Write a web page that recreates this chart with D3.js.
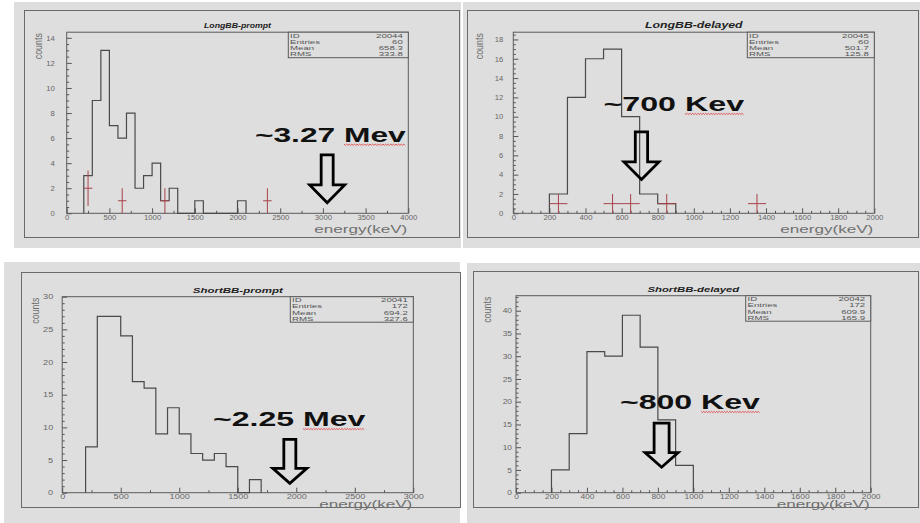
<!DOCTYPE html>
<html><head><meta charset="utf-8">
<script src="https://cdn.jsdelivr.net/npm/d3@7"></script>
<style>
html,body{margin:0;padding:0;background:#fff;}
svg{display:block;font-family:"Liberation Sans",Arial,Helvetica,sans-serif;}
</style></head><body>
<svg id="c" width="920" height="523"></svg>
<script>
// ---------------- data ----------------
const panelTitles = ["LongBB-prompt", "LongBB-delayed", "ShortBB-prompt", "ShortBB-delayed"];
const binStart = 200, binWidth = 100;            // keV
const longPromptCounts  = [3, 9, 13, 7, 6, 8, 2, 3, 4, 1, 2, 0, 0, 1, 0, 0, 0, 0, 1];
const longDelayedCounts = [2, 12, 16, 17, 10, 2, 1];
const shortPromptCounts = [7, 27, 27, 24, 17, 16, 9, 13, 9, 6, 5, 6, 4, 0, 2];
const shortDelayedCounts = [5, 13, 31, 30, 39, 32, 16, 6];
const longPromptMarkX  = [250, 650, 1150, 2350];
const longPromptMarkY  = [2, 1, 1, 1];
const longDelayedMarkX = [250, 550, 650, 850, 1350];
const longDelayedMarkY = [1, 1, 1, 1, 1];
const statIDs     = ["20044", "20045", "20041", "20042"];
const statEntries = ["60", "60", "172", "172"];
const statMeans   = ["658.3", "501.7", "694.2", "609.9"];
const statRMS     = ["333.8", "125.8", "327.6", "165.9"];
const xMax   = [4000, 2000, 3000, 2000];
const yMax   = [14.45, 18.75, 30, 43.3];
const xMajor = [500, 200, 500, 200];
const xMinor = [250, 50, 250, 50];
const yMajor = [2, 2, 5, 5];
const yMinor = [0.5, 0.5, 1, 1];
const noteText = ["~3.27 Mev", "~700 Kev", "~2.25 Mev", "~800 Kev"];
const noteX = [3087, 889, 1940, 981];     // keV (text centre)
const noteY = [5.71, 10.6, 10.2, 18.4];   // counts (baseline)
const arrowX = [3050, 710, 1945, 821];    // keV (arrow tip)
const arrowY = [0.85, 3.5, 1.44, 5.6];    // counts (arrow tip)

// ---------------- layout ----------------
const layout = [
  {bg:[14,2,447,246], frame:[24,10,435,227], plot:[66.7,32.2,341.6,181.1], ygap:12, ylabX:29, xlabDY:19.3, tpad:2,
   titleFs:7.5, titleW:67, noteW:150.7, arrow:{sw:12,hw:35,hh:17.7,h:47.7}, tk:1.1, statW:120},
  {bg:[463,2,457,246], frame:[467,10,451,227], plot:[513.3,32.2,361,181.1], ygap:10, ylabX:34, xlabDY:19.3, tpad:2,
   titleFs:8.5, titleW:97.6, noteW:140.7, arrow:{sw:12.3,hw:35,hh:17.6,h:47.6}, tk:1.1, statW:127},
  {bg:[4,262,456,261], frame:[21,272,439,235], plot:[62.2,296.7,351.1,196], ygap:9, ylabX:27, xlabDY:14.8, tpad:1.2,
   titleFs:8, titleW:90, noteW:152.4, arrow:{sw:12,hw:34,hh:15,h:44}, tk:1.3, statW:123},
  {bg:[467,263,453,260], frame:[473,271,445,236], plot:[516,295.7,354.7,197], ygap:4, ylabX:28.5, xlabDY:14.8, tpad:1.2,
   titleFs:8, titleW:91.7, noteW:140, arrow:{sw:15,hw:33,hh:14.6,h:44}, tk:1.2, statW:125}
];

const series = [longPromptCounts, longDelayedCounts, shortPromptCounts, shortDelayedCounts];
const marks = [{x: longPromptMarkX, y: longPromptMarkY}, {x: longDelayedMarkX, y: longDelayedMarkY}, null, null];

const svg = d3.select("#c");
const GRAY = "#dedede";

function stretch(sel, k) {
  sel.each(function () {
    const w = this.getComputedTextLength();
    d3.select(this).attr("textLength", w * k).attr("lengthAdjust", "spacingAndGlyphs");
  });
}
function fit(sel, w) { sel.attr("textLength", w).attr("lengthAdjust", "spacingAndGlyphs"); }

layout.forEach((L, i) => {
  const g = svg.append("g");
  g.append("rect").attr("x", L.bg[0]).attr("y", L.bg[1]).attr("width", L.bg[2]).attr("height", L.bg[3]).attr("fill", GRAY);
  g.append("rect").attr("x", L.frame[0] + 0.5).attr("y", L.frame[1] + 0.5).attr("width", L.frame[2]).attr("height", L.frame[3])
    .attr("fill", "none").attr("stroke", "#6a6a6a").attr("stroke-width", 1);

  const [px, py, pw, ph] = L.plot;
  const x = d3.scaleLinear().domain([0, xMax[i]]).range([px, px + pw]);
  const y = d3.scaleLinear().domain([0, yMax[i]]).range([py + ph, py]);

  // minor ticks
  const xMin = d3.range(0, xMax[i] + 1e-6, xMinor[i]).filter(v => Math.abs(v / xMajor[i] - Math.round(v / xMajor[i])) > 1e-6);
  const yMin = d3.range(0, yMax[i], yMinor[i]).filter(v => Math.abs(v / yMajor[i] - Math.round(v / yMajor[i])) > 1e-6);
  g.append("g").attr("transform", `translate(0,${py + ph})`)
    .call(d3.axisBottom(x).tickValues(xMin).tickSize(-2.5).tickFormat(""))
    .call(a => a.select(".domain").remove())
    .selectAll("line").attr("stroke", "#555");
  g.append("g").attr("transform", `translate(${px},0)`)
    .call(d3.axisLeft(y).tickValues(yMin).tickSize(-2.5).tickFormat(""))
    .call(a => a.select(".domain").remove())
    .selectAll("line").attr("stroke", "#555");

  // major ticks + labels
  const xa = g.append("g").attr("transform", `translate(0,${py + ph})`)
    .call(d3.axisBottom(x).tickValues(d3.range(0, xMax[i] + 1e-6, xMajor[i])).tickSize(-5).tickPadding(L.tpad).tickFormat(d3.format("d")))
    .call(a => a.select(".domain").remove());
  xa.selectAll("line").attr("stroke", "#555");
  xa.selectAll("text").attr("font-size", 7).attr("fill", "#666").attr("font-family", "Liberation Sans, Arial, sans-serif");
  stretch(xa.selectAll("text"), L.tk);

  const ya = g.append("g").attr("transform", `translate(${px},0)`)
    .call(d3.axisLeft(y).tickValues(d3.range(0, yMax[i] + 1e-6, yMajor[i])).tickSize(-5).tickPadding(L.ygap).tickFormat(d3.format("d")))
    .call(a => a.select(".domain").remove());
  ya.selectAll("line").attr("stroke", "#555");
  ya.selectAll("text").attr("font-size", 7).attr("fill", "#666").attr("font-family", "Liberation Sans, Arial, sans-serif");
  stretch(ya.selectAll("text"), L.tk);

  // plot frame
  g.append("rect").attr("x", px).attr("y", py).attr("width", pw).attr("height", ph)
    .attr("fill", "none").attr("stroke", "#5a5a5a").attr("stroke-width", 1);

  // histogram outline
  const counts = series[i];
  const pts = [[binStart, 0]];
  counts.forEach((c, k) => {
    const lo = binStart + k * binWidth;
    pts.push([lo, c], [lo + binWidth, c]);
  });
  pts.push([binStart + counts.length * binWidth, 0]);
  g.append("path").attr("d", d3.line().x(d => x(d[0])).y(d => y(d[1]))(pts))
    .attr("fill", "none").attr("stroke", "#4a4a4a").attr("stroke-width", 1.2);

  // red crosses
  const m = marks[i];
  if (m) {
    m.x.forEach((mx, k) => {
      const my = m.y[k], e = Math.sqrt(my);
      g.append("line").attr("x1", x(mx - binWidth / 2)).attr("x2", x(mx + binWidth / 2)).attr("y1", y(my)).attr("y2", y(my))
        .attr("stroke", "#a8424a").attr("stroke-width", 1);
      g.append("line").attr("x1", x(mx)).attr("x2", x(mx)).attr("y1", y(Math.max(0, my - e))).attr("y2", y(my + e))
        .attr("stroke", "#a8424a").attr("stroke-width", 1);
    });
  }

  // title
  const t = g.append("text").attr("x", px + pw / 2).attr("y", py - 7).attr("dy", "0.35em").attr("text-anchor", "middle")
    .attr("font-size", L.titleFs).attr("font-weight", "bold").attr("font-style", "italic").attr("fill", "#222")
    .text(panelTitles[i]);
  fit(t, L.titleW);

  // stats box
  const bw = L.statW, bh = 25.5, bx = px + pw - bw, by = py;
  g.append("rect").attr("x", bx).attr("y", by).attr("width", bw).attr("height", bh)
    .attr("fill", GRAY).attr("stroke", "#5a5a5a").attr("stroke-width", 1);
  const rows = [["ID", statIDs[i]], ["Entries", statEntries[i]], ["Mean", statMeans[i]], ["RMS", statRMS[i]]];
  rows.forEach((r, k) => {
    const yy = by + 3.4 + k * 6.2;
    const a = g.append("text").attr("x", bx + 1.8).attr("y", yy).attr("dy", "0.35em").attr("font-size", 6)
      .attr("fill", "#555").text(r[0]);
    stretch(a, 1.6);
    const b = g.append("text").attr("x", bx + bw - 5.5).attr("y", yy).attr("dy", "0.35em").attr("text-anchor", "end")
      .attr("font-size", 6).attr("fill", "#555").text(r[1]);
    stretch(b, 1.6);
  });

  // axis titles
  const yl = g.append("text").attr("transform", `translate(${px - L.ylabX + 3.8},${py + 1}) rotate(-90)`)
    .attr("text-anchor", "end").attr("font-size", 11).attr("fill", "#6a6a6a").text("counts");
  fit(yl, 26);
  const xl = g.append("text").attr("x", px + pw - 1).attr("y", py + ph + L.xlabDY).attr("text-anchor", "end")
    .attr("font-size", 10).attr("fill", "#707070").text("energy(keV)");
  fit(xl, 93);

  // annotation text
  const nx = x(noteX[i]), ny = y(noteY[i]);
  const nt = g.append("text").attr("x", nx).attr("y", ny).attr("text-anchor", "middle")
    .attr("font-size", 20).attr("font-weight", "bold").attr("fill", "#111").text(noteText[i]);
  const full = nt.node().getComputedTextLength();
  const tmp = g.append("text").attr("font-size", 20).attr("font-weight", "bold")
    .text(noteText[i].slice(0, noteText[i].lastIndexOf(" ") + 1).replace(/ $/, "\u00a0"));
  const pre = tmp.node().getComputedTextLength();
  tmp.remove();
  fit(nt, L.noteW);
  const left = nx - L.noteW / 2, s0 = left + pre / full * L.noteW, s1 = left + L.noteW;
  const zz = [];
  for (let xx = s0, k = 0; xx <= s1; xx += 1.3, k++) zz.push([xx, ny + 2.6 + (k % 2 ? 1 : -0.2)]);
  g.append("path").attr("d", d3.line()(zz)).attr("fill", "none").attr("stroke", "#e0343a").attr("stroke-width", 0.8);

  // hollow arrow
  const ax = x(arrowX[i]), ay = y(arrowY[i]), A = L.arrow;
  const poly = [[ax - A.sw / 2, ay - A.h], [ax + A.sw / 2, ay - A.h], [ax + A.sw / 2, ay - A.hh], [ax + A.hw / 2, ay - A.hh],
                [ax, ay], [ax - A.hw / 2, ay - A.hh], [ax - A.sw / 2, ay - A.hh]];
  g.append("path").attr("d", d3.line()(poly) + "Z").attr("fill", "none").attr("stroke", "#000")
    .attr("stroke-width", 2.8).attr("stroke-linejoin", "miter");
});
</script>
</body></html>
